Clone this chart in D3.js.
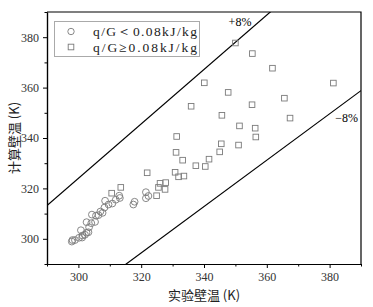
<!DOCTYPE html>
<html>
<head>
<meta charset="utf-8">
<script src="https://cdn.jsdelivr.net/npm/d3@7"></script>
<style>
  body { margin: 0; background: #fff; }
  svg { display: block; }
</style>
</head>
<body>
<script>
// q/G < 0.08 kJ/kg (circles)
var lowX = [297.9, 298.1, 298.9, 300.2, 301.2, 300.8, 301.3, 302.1, 302.6, 303.2, 302.6, 303.4, 304.1, 304.3, 305.3, 305.6, 306.4, 307.0, 307.7, 308.3, 308.5, 309.6, 310.8, 311.9, 313.0, 313.2, 317.5, 317.9, 321.5, 321.5, 322.3];
var lowY = [298.9, 299.5, 299.5, 300.4, 300.5, 303.4, 301.3, 301.6, 302.4, 302.6, 306.6, 304.6, 306.2, 309.6, 306.7, 309.2, 309.4, 310.8, 310.3, 312.4, 315.1, 313.6, 314.0, 315.5, 317.1, 316.2, 313.6, 314.7, 318.5, 316.1, 317.0];
// q/G >= 0.08 kJ/kg (squares)
var highX = [310.6, 313.5, 321.9, 324.9, 325.5, 326.0, 327.8, 327.6, 330.8, 331.9, 333.6, 331.1, 333.2, 337.4, 340.4, 341.6, 345.0, 331.3, 345.5, 351.0, 335.9, 345.7, 351.3, 356.3, 356.5, 355.3, 367.4, 365.6, 340.1, 347.7, 361.8, 381.2, 355.4, 350.0];
var highY = [318.1, 320.4, 326.2, 317.1, 320.4, 322.0, 322.3, 319.6, 326.4, 324.6, 324.9, 334.3, 331.2, 329.0, 328.7, 331.6, 334.5, 340.6, 337.7, 337.2, 352.6, 349.0, 344.8, 343.9, 340.4, 353.2, 347.9, 355.8, 361.9, 358.1, 367.7, 361.8, 373.5, 377.7];

var ticks = [300, 320, 340, 360, 380];
var minorTicks = [290, 310, 330, 350, 370, 390];
var bounds = [0.92, 1.08];
var boundLabels = ["−8%", "+8%"];
var legendLabels = ["q/G＜0.08kJ/kg", "q/G≥0.08kJ/kg"];

(function(){
  var W = 373, H = 307;
  var pL = 47, pT = 12, pR = 361, pB = 264;
  var grey = "#7a7a7a";
  var serif = "'Liberation Serif', 'DejaVu Serif', serif";
  var cjk = "'Noto Sans CJK SC', 'Noto Sans', sans-serif";

  var x = d3.scaleLinear().domain([290, 390]).range([pL, pR]);
  var y = d3.scaleLinear().domain([290, 390]).range([pB, pT]);

  var svg = d3.select("body").append("svg")
      .attr("width", W)
      .attr("height", H);

  svg.append("clipPath").attr("id", "plot")
    .append("rect")
      .attr("x", pL).attr("y", pT)
      .attr("width", pR - pL).attr("height", pB - pT);

  // deviation lines
  var line = d3.line().x(d => x(d[0])).y(d => y(d[1]));
  bounds.forEach(function(k){
      svg.append("path")
          .attr("clip-path", "url(#plot)")
          .attr("d", line([[290, 290 * k], [390, 390 * k]]))
          .attr("stroke", "#000")
          .attr("stroke-width", 1.2)
          .attr("fill", "none");
  });

  // points
  svg.append("g").selectAll("circle")
      .data(d3.zip(lowX, lowY))
      .join("circle")
      .attr("cx", d => x(d[0]))
      .attr("cy", d => y(d[1]))
      .attr("r", 3.4)
      .attr("fill", "none")
      .attr("stroke", grey)
      .attr("stroke-width", 0.9);

  var s = 5.6;
  svg.append("g").selectAll("rect")
      .data(d3.zip(highX, highY))
      .join("rect")
      .attr("x", d => x(d[0]) - s / 2)
      .attr("y", d => y(d[1]) - s / 2)
      .attr("width", s)
      .attr("height", s)
      .attr("fill", "none")
      .attr("stroke", grey)
      .attr("stroke-width", 0.9);

  // axes
  svg.append("g")
      .attr("transform", "translate(0," + pB + ")")
      .call(d3.axisBottom(x).tickValues(ticks).tickSize(4).tickSizeOuter(0).tickPadding(4));
  svg.append("g")
      .attr("transform", "translate(0," + pB + ")")
      .call(d3.axisBottom(x).tickValues(minorTicks).tickSize(2.5).tickSizeOuter(0).tickFormat(""));
  svg.append("g")
      .attr("transform", "translate(" + pL + ",0)")
      .call(d3.axisLeft(y).tickValues(ticks).tickSize(4).tickSizeOuter(0).tickPadding(4));
  svg.append("g")
      .attr("transform", "translate(" + pL + ",0)")
      .call(d3.axisLeft(y).tickValues(minorTicks).tickSize(2.5).tickSizeOuter(0).tickFormat(""));

  svg.selectAll(".domain").attr("stroke", "#000").attr("stroke-width", 1.2);
  svg.selectAll(".tick line").attr("stroke", "#000").attr("stroke-width", 1);
  svg.selectAll(".tick text")
      .attr("font-family", serif)
      .attr("font-size", 12)
      .attr("fill", "#333");

  // top & right frame
  svg.append("path")
      .attr("d", "M" + pL + "," + pT + "H" + pR + "V" + pB)
      .attr("stroke", "#000")
      .attr("stroke-width", 1.2)
      .attr("fill", "none");

  // deviation labels
  svg.append("text")
      .attr("x", 240).attr("y", 26)
      .attr("text-anchor", "middle")
      .attr("font-family", serif).attr("font-size", 12)
      .text(boundLabels[1]);
  svg.append("text")
      .attr("x", 358).attr("y", 122)
      .attr("text-anchor", "end")
      .attr("font-family", serif).attr("font-size", 12)
      .text(boundLabels[0]);

  // legend
  var lg = svg.append("g");
  lg.append("rect")
      .attr("x", 54.5).attr("y", 21.5)
      .attr("width", 145).attr("height", 35)
      .attr("fill", "#fff")
      .attr("stroke", "#aaa")
      .attr("stroke-width", 1);
  lg.append("circle")
      .attr("cx", 71).attr("cy", 31.5).attr("r", 3.2)
      .attr("fill", "none").attr("stroke", grey).attr("stroke-width", 0.9);
  lg.append("rect")
      .attr("x", 71 - 2.8).attr("y", 47 - 2.8).attr("width", 5.6).attr("height", 5.6)
      .attr("fill", "none").attr("stroke", grey).attr("stroke-width", 0.9);
  legendLabels.forEach(function(t, i){
      lg.append("text")
          .attr("x", 93).attr("y", 36 + i * 15.5)
          .attr("font-family", serif)
          .attr("font-size", 13.5)
          .attr("textLength", 104)
          .attr("lengthAdjust", "spacing")
          .attr("fill", "#222")
          .text(t);
  });

  // axis titles
  svg.append("text")
      .attr("x", 204).attr("y", 300)
      .attr("text-anchor", "middle")
      .attr("font-family", cjk)
      .attr("font-size", 13)
      .attr("fill", "#222")
      .text("实验壁温 (K)");
  svg.append("text")
      .attr("transform", "translate(19,138) rotate(-90)")
      .attr("text-anchor", "middle")
      .attr("font-family", cjk)
      .attr("font-size", 13)
      .attr("fill", "#222")
      .text("计算壁温 (K)");
})();
</script>
</body>
</html>
